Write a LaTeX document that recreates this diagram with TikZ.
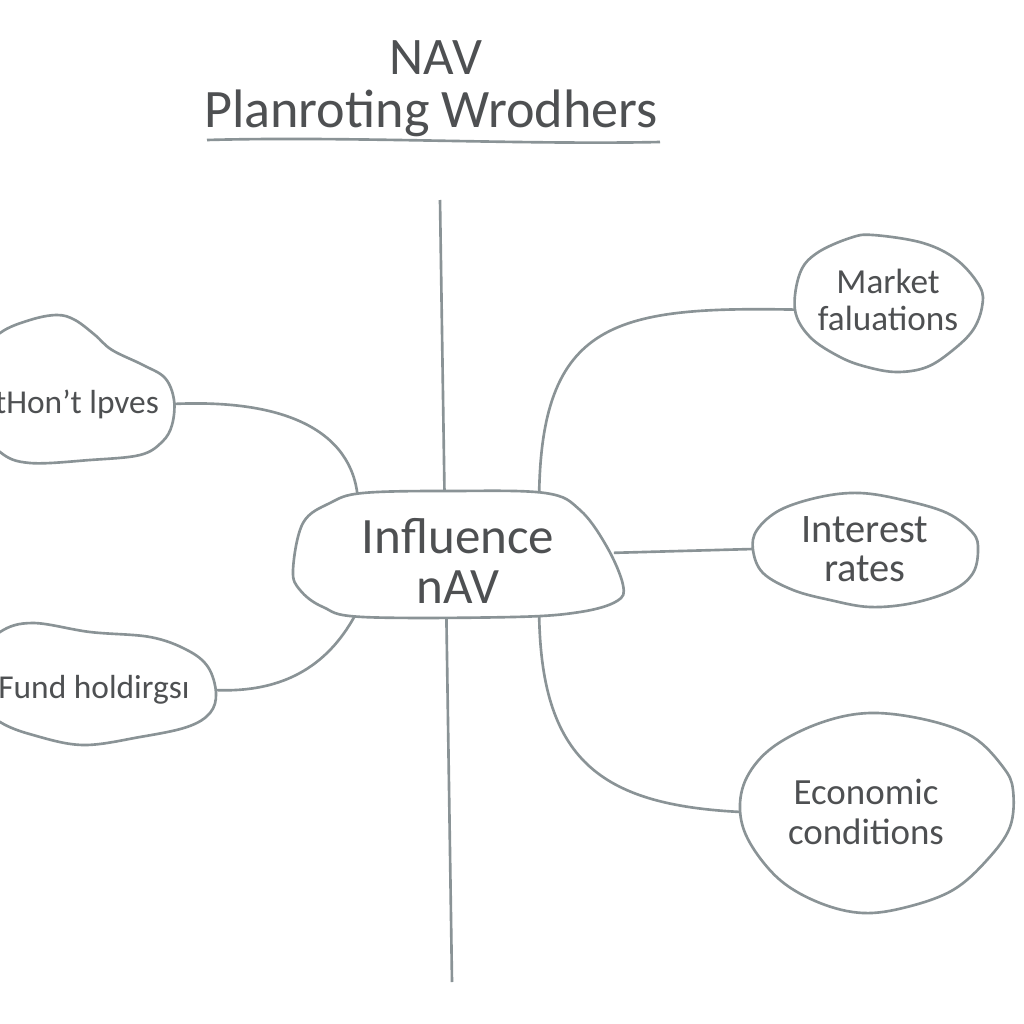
\documentclass[tikz,border=0pt]{standalone}
\usepackage{fontspec}
\setmainfont{Carlito}
\usetikzlibrary{backgrounds}
\definecolor{inkline}{RGB}{138,147,150}
\definecolor{inktext}{RGB}{78,80,82}
\begin{document}
\begin{tikzpicture}[x=0.01cm, y=-0.01cm, line cap=round, line join=round,
	stroke/.style={draw=inkline, line width=0.75pt},
	blob/.style={stroke, fill=white},
	hit/.style={rectangle, inner sep=0pt, text=inktext, align=center},
	title/.style={text=inktext, anchor=base, font=\fontsize{15}{18}\selectfont}]
	\useasboundingbox (0,0) rectangle (1024,1024);
	\node[title] (nav) at (436,74) {NAV};
	\node[title, font=\fontsize{15.4}{18}\selectfont] (plan) at (431,127) {Planroting Wrodhers};
	\node[hit, minimum width=3.1cm, minimum height=0.96cm, font=\fontsize{14.5}{14}\selectfont] (inf) at (458,561) {Influence\\nAV};
	\node[hit, minimum width=1.9cm, minimum height=0.9cm, font=\fontsize{9.5}{11}\selectfont] (thon) at (77,404) {tHon't lpves};
	\node[hit, minimum width=2.38cm, minimum height=0.9cm, font=\fontsize{9.5}{11}\selectfont] (fund) at (94,690) {Fund holdirgsı};
	\node[hit, minimum width=1.82cm, minimum height=0.9cm, font=\fontsize{10}{10.5}\selectfont] (mkt) at (888,300) {Market\\faluations};
	\node[hit, minimum width=2.22cm, minimum height=0.9cm, font=\fontsize{11.5}{11}\selectfont] (int) at (865,549) {Interest\\rates};
	\node[hit, minimum width=2.48cm, minimum height=1.2cm, font=\fontsize{10.5}{11.5}\selectfont] (eco) at (866,812) {Economic\\conditions};
	\begin{scope}[on background layer]
		\fill[white] (0,0) rectangle (1024,1024);
		\draw[stroke] (207,140) .. controls (350,136) and (520,145) .. (660,142);
		\coordinate (axtop) at (440,200);
		\coordinate (axbot) at (452,982);
		\draw[stroke] (axtop) -- (axbot);
		\draw[stroke] (thon.east) .. controls (300,398) and (361,440) .. (inf.154);
		\draw[stroke] (fund.east) .. controls (295,694) and (335,655) .. (inf.206);
		\draw[stroke] (mkt.186) .. controls (610,306) and (537,322) .. (inf.31);
		\draw[stroke] (int.west) -- (inf.3);
		\draw[stroke] (eco.west) .. controls (600,805) and (540,760) .. (inf.-31);
		\draw[blob] plot[smooth cycle, tension=0.6] coordinates {(293,570) (303,523) (330,503) (363,493) (450,491) (545,493) (580,510) (607,547) (623,585) (617,601) (580,612) (513,617) (363,617) (323,607) (300,590)};
		\draw[blob] plot[smooth cycle, tension=0.6] coordinates {(-25,360) (0,333) (30,320) (57,315) (75,320) (95,335) (112,350) (143,365) (165,378) (174,400) (172,425) (162,442) (140,455) (90,460) (30,463) (0,452) (-25,420)};
		\draw[blob] plot[smooth cycle, tension=0.6] coordinates {(-25,660) (0,632) (33,623) (90,632) (150,637) (187,650) (208,667) (216,693) (210,713) (187,727) (140,737) (83,745) (33,735) (0,722) (-25,700)};
		\draw[blob] plot[smooth cycle, tension=0.6] coordinates {(795,310) (800,273) (817,253) (850,238) (873,235) (923,243) (957,260) (980,287) (982,307) (973,330) (953,350) (927,367) (897,372) (867,367) (840,357) (810,337)};
		\draw[blob] plot[smooth cycle, tension=0.6] coordinates {(753,550) (757,530) (780,510) (820,497) (860,493) (903,500) (947,513) (973,533) (978,550) (973,573) (953,590) (913,603) (870,607) (830,600) (793,590) (763,573)};
		\draw[blob] plot[smooth cycle, tension=0.6] coordinates {(740,810) (747,777) (773,747) (820,723) (870,713) (927,720) (973,737) (1003,767) (1013,790) (1010,827) (987,860) (953,890) (907,907) (863,913) (820,903) (780,880) (750,843)};
	\end{scope}
\end{tikzpicture}
\end{document}
